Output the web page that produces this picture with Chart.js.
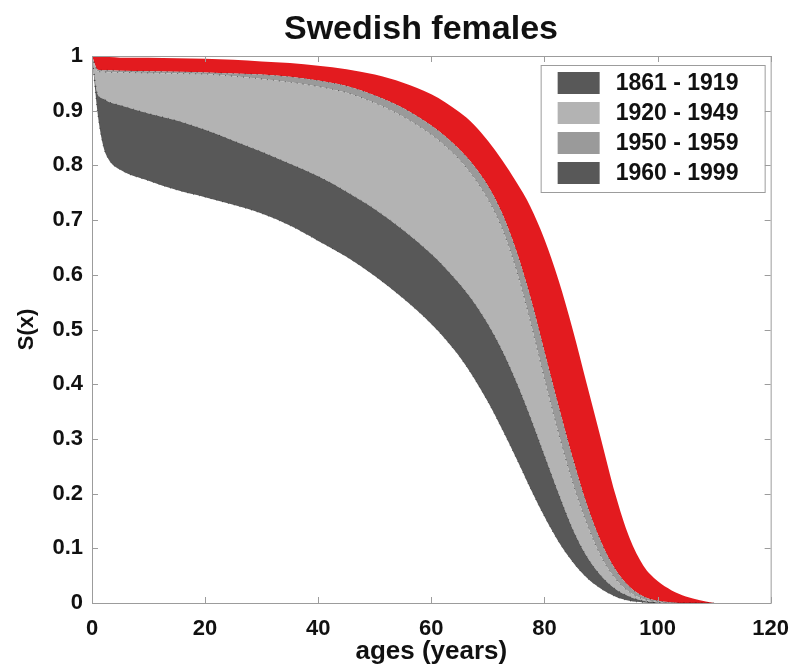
<!DOCTYPE html>
<html>
<head>
<meta charset="utf-8">
<script src="https://cdn.jsdelivr.net/npm/chart.js@4.4.1/dist/chart.umd.min.js"></script>
<style>
  html, body { margin: 0; padding: 0; background: #fff; }
</style>
</head>
<body>
<canvas id="chart" width="802" height="667"></canvas>
<script>
const ages = [0, 1, 2, 3, 5, 10, 15, 20, 25, 30, 35, 40, 45, 50, 55,
  60, 62.5, 65, 67.5, 70, 72.5, 75, 77.5, 80, 82.5, 85, 87.5, 90, 92.5, 95, 97.5, 100, 102.5, 105, 107.5, 110];

// band edges S(x), from the lowest curve up
const low1861 = [1.0, 0.895, 0.835, 0.81, 0.792, 0.772, 0.755, 0.742, 0.728, 0.712, 0.69, 0.662, 0.633, 0.598, 0.557,
  0.51, 0.482, 0.45, 0.412, 0.368, 0.318, 0.265, 0.21, 0.158, 0.112, 0.075, 0.046, 0.026, 0.012, 0.004, 0.001, 0, 0, 0, 0, 0];
const top1861 = [1.0, 0.93, 0.922, 0.916, 0.91, 0.895, 0.882, 0.865, 0.845, 0.825, 0.803, 0.78, 0.752, 0.72, 0.682,
  0.638, 0.612, 0.583, 0.55, 0.51, 0.462, 0.405, 0.34, 0.27, 0.2, 0.135, 0.085, 0.05, 0.026, 0.012, 0.004, 0.001, 0, 0, 0, 0];
const top1920 = [1.0, 0.972, 0.971, 0.97, 0.97, 0.969, 0.968, 0.967, 0.963, 0.958, 0.952, 0.944, 0.933, 0.914, 0.889,
  0.856, 0.835, 0.81, 0.778, 0.738, 0.685, 0.61, 0.515, 0.41, 0.31, 0.22, 0.145, 0.085, 0.045, 0.02, 0.007, 0.002, 0, 0, 0, 0];
const top1950 = [1.0, 0.975, 0.974, 0.974, 0.973, 0.972, 0.971, 0.97, 0.968, 0.966, 0.962, 0.955, 0.945, 0.928, 0.905,
  0.873, 0.853, 0.829, 0.8, 0.763, 0.713, 0.645, 0.56, 0.46, 0.36, 0.265, 0.18, 0.112, 0.062, 0.03, 0.012, 0.004, 0.001, 0, 0, 0];
const top1960 = [1.0, 0.998, 0.998, 0.998, 0.997, 0.997, 0.996, 0.995, 0.993, 0.99, 0.987, 0.982, 0.976, 0.966, 0.951,
  0.93, 0.915, 0.897, 0.875, 0.845, 0.81, 0.77, 0.725, 0.665, 0.59, 0.5, 0.4, 0.3, 0.2, 0.12, 0.068, 0.04, 0.023, 0.012, 0.005, 0];

const periods = ['1861 - 1919', '1920 - 1949', '1950 - 1959', '1960 - 1999'];
const bandColors = ['#585858', '#b3b3b3', '#9a9a9a', '#e31b1f'];
// the printed legend shows the last swatch in dark grey
const swatchColors = ['#585858', '#b3b3b3', '#9a9a9a', '#585858'];

const xTicks = [0, 20, 40, 60, 80, 100, 120];
const yTicks = [0, 0.1, 0.2, 0.3, 0.4, 0.5, 0.6, 0.7, 0.8, 0.9, 1];

function pts(arr) {
  return ages.map((a, i) => ({ x: a, y: arr[i] }));
}

const edges = [low1861, top1861, top1920, top1950, top1960];
const datasets = edges.map((e, i) => ({
  label: i === 0 ? 'base' : periods[i - 1],
  data: pts(e),
  // faint dotted outline like the scanned original, none on the outer red edge
  borderWidth: i === 4 ? 0 : 1,
  borderColor: i === 4 ? 'rgba(0,0,0,0)' : 'rgba(0,0,0,0.5)',
  borderDash: [1, 5],
  backgroundColor: i === 0 ? 'rgba(0,0,0,0)' : bandColors[i - 1],
  fill: i === 0 ? false : '-1',
  pointRadius: 0,
  cubicInterpolationMode: 'monotone'
}));

const FONT = '"Liberation Sans", Arial, Helvetica, sans-serif';

// box around the plot with inward ticks on all sides
const frame = {
  id: 'frame',
  afterDatasetsDraw(chart) {
    const { ctx, chartArea: a, scales } = chart;
    ctx.save();
    ctx.strokeStyle = '#9c9c9c';
    ctx.lineWidth = 1;
    ctx.strokeRect(a.left + 0.5, a.top + 0.5, a.right - a.left, a.bottom - a.top);
    ctx.beginPath();
    xTicks.forEach(v => {
      const px = Math.round(scales.x.getPixelForValue(v)) + 0.5;
      ctx.moveTo(px, a.bottom); ctx.lineTo(px, a.bottom - 6);
      ctx.moveTo(px, a.top); ctx.lineTo(px, a.top + 6);
    });
    yTicks.forEach(v => {
      const py = Math.round(scales.y.getPixelForValue(v)) + 0.5;
      ctx.moveTo(a.left, py); ctx.lineTo(a.left + 6, py);
      ctx.moveTo(a.right, py); ctx.lineTo(a.right - 6, py);
    });
    ctx.stroke();
    ctx.restore();
  }
};

const titleAndLegend = {
  id: 'titleAndLegend',
  afterDraw(chart) {
    const { ctx, chartArea: a } = chart;
    ctx.save();
    ctx.fillStyle = '#111';
    ctx.font = 'bold 34px ' + FONT;
    ctx.textAlign = 'center';
    ctx.textBaseline = 'alphabetic';
    ctx.fillText('Swedish females', 421, 39);

    // legend box
    const bx = a.right - 230, by = a.top + 9, bw = 224, bh = 127;
    ctx.fillStyle = '#fff';
    ctx.fillRect(bx, by, bw, bh);
    ctx.strokeStyle = '#9c9c9c';
    ctx.lineWidth = 1;
    ctx.strokeRect(bx + 0.5, by + 0.5, bw, bh);
    ctx.font = 'bold 23px ' + FONT;
    ctx.textAlign = 'left';
    ctx.textBaseline = 'middle';
    periods.forEach((p, i) => {
      const cy = by + 18 + i * 30;
      ctx.fillStyle = swatchColors[i];
      ctx.fillRect(bx + 17, cy - 11, 42, 22);
      ctx.fillStyle = '#111';
      ctx.fillText(p, bx + 75, cy + 1);
    });
    ctx.restore();
  }
};

new Chart(document.getElementById('chart'), {
  type: 'line',
  data: { datasets },
  options: {
    responsive: false,
    animation: false,
    devicePixelRatio: 1,
    layout: { padding: { top: 56, right: 24, left: 0, bottom: 0 } },
    plugins: {
      legend: { display: false },
      tooltip: { enabled: false },
      title: { display: false }
    },
    scales: {
      x: {
        type: 'linear',
        min: 0, max: 120,
        afterFit: s => { s.height = 64; },
        afterBuildTicks: s => { s.ticks = xTicks.map(v => ({ value: v })); },
        grid: { display: false, drawTicks: false },
        border: { display: false },
        ticks: { padding: 13, color: '#111', font: { family: FONT, size: 22, weight: 'bold' }, maxRotation: 0 },
        title: { display: true, text: 'ages (years)', color: '#111', padding: { top: 0, bottom: 0 },
          font: { family: FONT, size: 26, weight: 'bold' } }
      },
      y: {
        type: 'linear',
        min: 0, max: 1,
        afterFit: s => { s.width = 92; },
        afterBuildTicks: s => { s.ticks = yTicks.map(v => ({ value: v })); },
        grid: { display: false, drawTicks: false },
        border: { display: false },
        ticks: {
          padding: 9, color: '#111', font: { family: FONT, size: 22, weight: 'bold' },
          callback: v => String(Number(v.toFixed(1)))
        },
        title: { display: true, text: 'S(x)', color: '#111', padding: { top: 14, bottom: 0 },
          font: { family: FONT, size: 22, weight: 'bold' } }
      }
    }
  },
  plugins: [frame, titleAndLegend]
});
</script>
</body>
</html>
